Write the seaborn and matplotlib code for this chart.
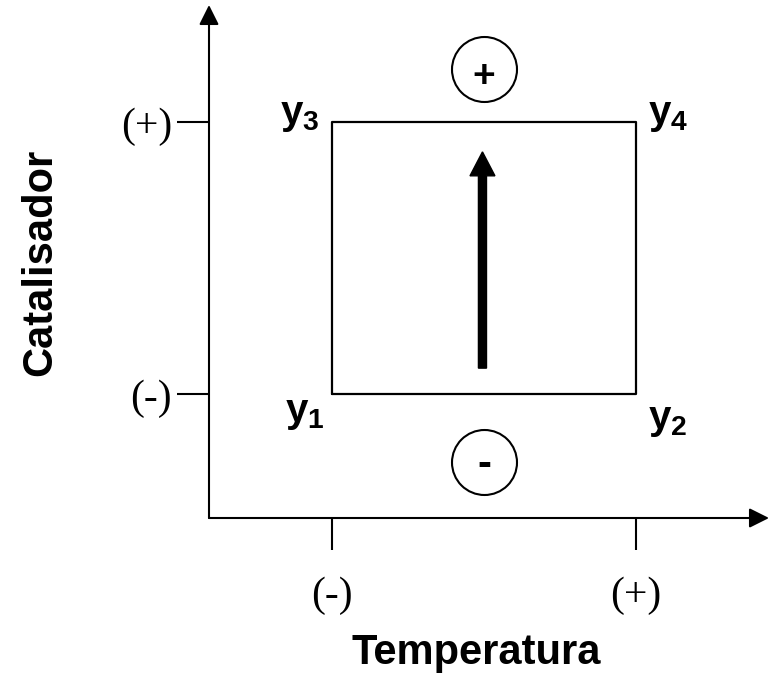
import numpy as np
import pandas as pd
import matplotlib
matplotlib.use('Agg')
import matplotlib.pyplot as plt
import seaborn as sns

# coded factor levels (-1 = low, +1 = high)
levels = [-1, 1]
level_labels = ['(-)', '(+)']

# corners of the 2^2 design, in the order y1..y4
corner_temp = [-1, 1, -1, 1]
corner_cat = [-1, -1, 1, 1]
corner_names = ['y1', 'y2', 'y3', 'y4']

# effect signs shown in circles
sign_text = ['+', '-']

sns.set_style('white')
plt.rcParams['font.family'] = ['Liberation Sans', 'DejaVu Sans']
plt.rcParams['mathtext.fontset'] = 'custom'
plt.rcParams['mathtext.rm'] = 'Liberation Sans'
plt.rcParams['mathtext.bf'] = 'Liberation Sans:bold'
plt.rcParams['mathtext.it'] = 'Liberation Sans:italic'
for key in ['text.color', 'axes.labelcolor', 'xtick.color', 'ytick.color']:
    plt.rcParams[key] = 'black'

fig = plt.figure(figsize=(7.75, 6.74), dpi=100)
ax = fig.add_axes([209 / 775, 156 / 674, 560 / 775, 513 / 674])

# square outline through the four design points
order = [0, 1, 3, 2, 0]
square = pd.DataFrame({
    'Temperatura': [corner_temp[i] for i in order],
    'Catalisador': [corner_cat[i] for i in order],
})
sns.lineplot(data=square, x='Temperatura', y='Catalisador', sort=False,
             estimator=None, color='black', lw=1.6, ax=ax)

# corner labels
offsets = {'y1': (-27, -19), 'y2': (32, -26), 'y3': (-32, 7), 'y4': (32, 7)}
for name, tx, cy in zip(corner_names, corner_temp, corner_cat):
    ax.annotate(r'$\mathbf{y_{%s}}$' % name[1], xy=(tx, cy),
                xytext=offsets[name], textcoords='offset pixels',
                ha='center', va='center', fontsize=29)

# circles with the signs
circles = pd.DataFrame({'x': [0, 0], 'y': [1.39, -1.5]})
sns.scatterplot(data=circles, x='x', y='y', s=2190, facecolor='white',
                edgecolor='black', linewidth=1.5, zorder=3, ax=ax)
ax.text(0, 1.33, sign_text[0], ha='center', va='center', fontsize=28,
        fontweight='bold', zorder=4)
ax.text(0, -1.52, sign_text[1], ha='center', va='center', fontsize=30,
        fontweight='bold', zorder=4)

# effect arrow
ax.arrow(-0.01, -0.81, 0, 1.59, width=0.053, head_width=0.164,
         head_length=0.176, length_includes_head=True, color='black', zorder=3)

ax.set_xlim(-1.809, 1.875)
ax.set_ylim(-1.912, 1.86)
for s in ax.spines.values():
    s.set_visible(False)

# axis lines with arrow heads
arrow_kw = dict(arrowstyle='-|>,head_length=0.8,head_width=0.4', color='black',
                lw=1.5, mutation_scale=15, shrinkA=0, shrinkB=0)
ax.annotate('', xy=(1, 0), xytext=(0, 0), xycoords='axes fraction', arrowprops=arrow_kw)
ax.annotate('', xy=(0, 1), xytext=(0, 0), xycoords='axes fraction', arrowprops=arrow_kw)

ax.set_xticks(levels)
ax.set_xticklabels(level_labels, family='Liberation Serif', fontsize=30)
ax.set_yticks(levels)
ax.set_yticklabels(level_labels, family='Liberation Serif', fontsize=30)
ax.tick_params(axis='x', bottom=True, length=23, width=1.5, direction='out', pad=19)
ax.tick_params(axis='y', left=True, length=23, width=1.5, direction='out', pad=3.6)

ax.set_xlabel('Temperatura', fontsize=30, fontweight='bold', va='center')
ax.set_ylabel('Catalisador', fontsize=30, fontweight='bold', va='center')
ax.xaxis.set_label_coords(0.477, -0.263)
ax.yaxis.set_label_coords(-0.302, 0.499)

fig.savefig('out.png', dpi=100)
